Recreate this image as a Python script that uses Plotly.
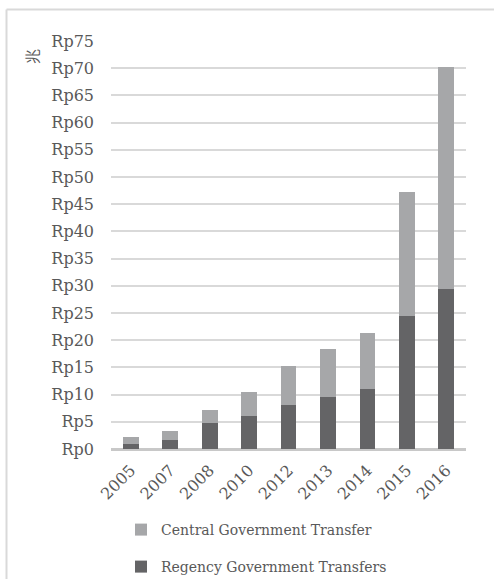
import plotly.graph_objects as go

years = ["2005", "2007", "2008", "2010", "2012", "2013", "2014", "2015", "2016"]
regency = [1.0, 1.6, 4.8, 6.1, 8.0, 9.6, 11.1, 24.5, 29.35]
central = [1.2, 1.7, 2.4, 4.3, 7.25, 8.7, 10.2, 22.7, 40.85]
y_ticks = list(range(0, 80, 5))
y_labels = ["Rp%d" % v for v in y_ticks]

DARK = "#646466"
LIGHT = "#a6a7a9"
TXT = "#595959"
FONT = "DejaVu Serif"

W, H = 494, 579
ML, MR, MT, MB = 111, 28, 41, 130
PW, PH = W - ML - MR, H - MT - MB

def px_x(p):
    return (p - ML) / PW

def px_y(p):
    return (H - MB - p) / PH

fig = go.Figure()
fig.add_trace(go.Bar(x=years, y=regency, name="Regency Government Transfers",
                     marker=dict(color=DARK, line=dict(width=0)), legend="legend2"))
fig.add_trace(go.Bar(x=years, y=central, name="Central Government Transfer",
                     marker=dict(color=LIGHT, line=dict(width=0)), legend="legend"))

fig.update_layout(
    width=W, height=H,
    margin=dict(l=ML, r=MR, t=MT, b=MB, autoexpand=False),
    paper_bgcolor="white", plot_bgcolor="white",
    barmode="stack", bargap=0.6,
    font=dict(family=FONT, size=16, color=TXT),
    xaxis=dict(tickangle=-45, showgrid=False, showline=False, ticks="",
               automargin=False, ticklabelstandoff=8,
               tickfont=dict(family=FONT, size=16, color=TXT)),
    yaxis=dict(range=[0, 75], tickvals=y_ticks, ticktext=y_labels,
               showgrid=True, gridcolor="#d9d9d9", gridwidth=1.5,
               zeroline=True, zerolinecolor="#c8c8c8", zerolinewidth=3,
               ticks="", ticklabelstandoff=16, automargin=False,
               tickfont=dict(family=FONT, size=16, color=TXT)),
    legend=dict(x=px_x(121), xanchor="left", y=px_y(530), yanchor="middle",
                font=dict(family=FONT, size=14, color=TXT), bgcolor="rgba(0,0,0,0)"),
    legend2=dict(x=px_x(121), xanchor="left", y=px_y(567), yanchor="middle",
                 font=dict(family=FONT, size=14, color=TXT), bgcolor="rgba(0,0,0,0)"),
    showlegend=True,
)

fig.add_annotation(text="兆", x=px_x(32), y=px_y(57), xref="paper", yref="paper",
                   xanchor="center", yanchor="middle",
                   showarrow=False, textangle=-90,
                   font=dict(family="Noto Sans CJK JP", size=15, color=TXT))

# chart frame (top and left edges visible)
fig.add_shape(type="line", xref="paper", yref="paper",
              x0=px_x(6.5), x1=px_x(W + 2), y0=px_y(9.5), y1=px_y(9.5),
              line=dict(color="#d9d9d9", width=2))
fig.add_shape(type="line", xref="paper", yref="paper",
              x0=px_x(6.5), x1=px_x(6.5), y0=px_y(9.5), y1=px_y(H + 2),
              line=dict(color="#d9d9d9", width=2))

fig.write_html("out.html")
